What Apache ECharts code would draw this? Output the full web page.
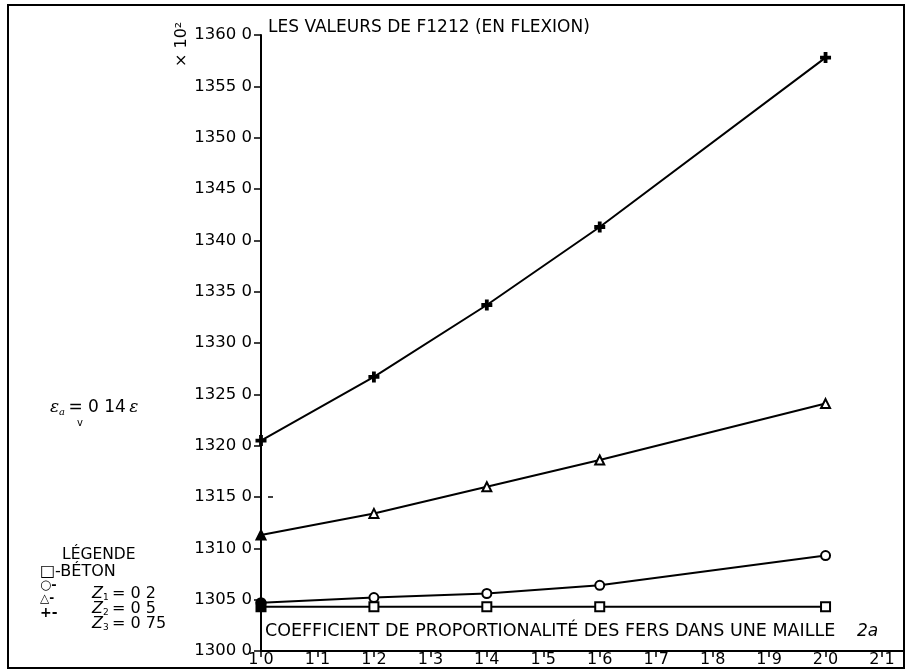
<!DOCTYPE html>
<html><head><meta charset="utf-8">
<script src="https://cdn.jsdelivr.net/npm/echarts@6/dist/echarts.min.js"></script>
<style>html,body{margin:0;padding:0;background:#fff}#c{width:917px;height:670px}</style>
</head><body><div id="c"></div>
<script>
var xValues = [1.0, 1.2, 1.4, 1.6, 2.0];
var betonValues = [1304.3, 1304.3, 1304.3, 1304.3, 1304.3];
var z1Values = [1304.7, 1305.2, 1305.6, 1306.4, 1309.3];
var z2Values = [1311.3, 1313.4, 1316.0, 1318.6, 1324.1];
var z3Values = [1320.5, 1326.7, 1333.7, 1341.3, 1357.8];
var xTickLabels = ["1 0","1 1","1 2","1 3","1 4","1 5","1 6","1 7","1 8","1 9","2 0","2 1"];
var yTickLabels = {1300:"1300 0",1305:"1305 0",1310:"1310 0",1315:"1315 0",1320:"1320 0",1325:"1325 0",1330:"1330 0",1335:"1335 0",1340:"1340 0",1345:"1345 0",1350:"1350 0",1355:"1355 0",1360:"1360 0"};
var titleText = "LES VALEURS DE F1212 (EN FLEXION)";
var xAxisTitle = "COEFFICIENT DE PROPORTIONALITÉ DES FERS DANS UNE MAILLE";

var FONT = '"DejaVu Sans", "Liberation Sans", Arial, sans-serif';
var plusPath = 'path://M4,0 L6,0 L6,4 L10,4 L10,6 L6,6 L6,10 L4,10 L4,6 L0,6 L0,4 L4,4 Z';
// first point (x = 1.0) of each series is drawn filled, as in the scan
function pairs(vals){
  return xValues.map(function(x,i){
    var d = {value:[x, vals[i]]};
    if (i === 0) d.itemStyle = {color:'#000'};
    return d;
  });
}
function ser(name, vals, symbol, size, filled){
  return {name:name, type:'line', data:pairs(vals), symbol:symbol, symbolSize:size,
    showAllSymbol:true, animation:false,
    lineStyle:{color:'#000', width:2},
    itemStyle:{color: filled ? '#000' : '#fff', borderColor:'#000', borderWidth:2}};
}
var zRich = {z:{font:'italic 16px ' + FONT, fill:'#000'}, s:{font:'9px ' + FONT, fill:'#000', padding:[8,0,0,0]}, n:{font:'16px ' + FONT, fill:'#000'}};
var chart = echarts.init(document.getElementById('c'), null, {renderer:'canvas'});
chart.setOption({
  backgroundColor:'#fff',
  animation:false,
  grid:{left:261, top:35, right:35, bottom:19, containLabel:false},
  xAxis:{type:'value', min:1.0, max:2.1, interval:0.1,
    axisLine:{lineStyle:{color:'#000', width:2}},
    axisTick:{show:true, inside:false, length:6, lineStyle:{color:'#000', width:1.5}},
    splitLine:{show:false},
    axisLabel:{color:'#000', fontSize:16, fontFamily:FONT, margin:1,
      showMaxLabel:true, showMinLabel:true,
      formatter:function(v){ return xTickLabels[Math.round((v-1)*10)]; }}},
  yAxis:{type:'value', min:1300, max:1360, interval:5,
    axisLine:{show:true, lineStyle:{color:'#000', width:2}},
    axisTick:{show:true, inside:false, length:7, lineStyle:{color:'#000', width:1.5}},
    splitLine:{show:false},
    axisLabel:{color:'#000', fontSize:16.5, fontFamily:FONT, margin:9,
      formatter:function(v){ return yTickLabels[Math.round(v)]; }}},
  series:[
    ser('BÉTON', betonValues, 'rect', 9, false),
    ser('Z1', z1Values, 'circle', 9, false),
    ser('Z2', z2Values, 'triangle', 9, false),
    ser('Z3', z3Values, plusPath, 9, true)
  ],
  graphic:[
    {type:'rect', shape:{x:8, y:5, width:896, height:663}, style:{fill:'none', stroke:'#000', lineWidth:2}, silent:true},
    {type:'line', shape:{x1:882, y1:651, x2:904, y2:651}, style:{stroke:'#000', lineWidth:2}},
    {type:'line', shape:{x1:268, y1:497, x2:273, y2:497}, style:{stroke:'#000', lineWidth:1.5}},
    {type:'text', left:268, top:19, style:{text:titleText, fill:'#000', font:'17px ' + FONT}},
    {type:'text', left:265, top:622, style:{text:xAxisTitle, fill:'#000', font:'17.5px ' + FONT}},
    {type:'text', left:857, top:623, style:{text:'2a', fill:'#000', font:'italic 17px ' + FONT}},
    {type:'text', x:174, y:67, rotation:Math.PI/2, style:{text:'× 10²', fill:'#000', font:'16px ' + FONT}},
    {type:'text', left:50, top:399, style:{
      rich:{e:{font:'italic 17px "DejaVu Serif", serif', fill:'#000'},
            s:{font:'italic 10px "DejaVu Serif", serif', fill:'#000', padding:[9,0,0,0]},
            n:{font:'17px ' + FONT, fill:'#000'}},
      text:'{e|ε}{s|a} {n|= 0 14} {e|ε}'}},
    {type:'text', left:77, top:418, style:{text:'v', fill:'#000', font:'10px ' + FONT}},
    {type:'text', left:62, top:547, style:{text:'LÉGENDE', fill:'#000', font:'15.5px ' + FONT}},
    {type:'text', left:40, top:564, style:{text:'□-BÉTON', fill:'#000', font:'16px ' + FONT}},
    {type:'text', left:40, top:579, style:{text:'○-', fill:'#000', font:'bold 13px ' + FONT}},
    {type:'text', left:40, top:593, style:{text:'△-', fill:'#000', font:'bold 12px ' + FONT}},
    {type:'text', left:40, top:606, style:{text:'+-', fill:'#000', font:'bold 14px ' + FONT}},
    {type:'text', left:92, top:586, style:{rich:zRich, text:'{z|Z}{s|1} {n|= 0 2}'}},
    {type:'text', left:92, top:601, style:{rich:zRich, text:'{z|Z}{s|2} {n|= 0 5}'}},
    {type:'text', left:92, top:616, style:{rich:zRich, text:'{z|Z}{s|3} {n|= 0 75}'}}
  ]
});
</script></body></html>
